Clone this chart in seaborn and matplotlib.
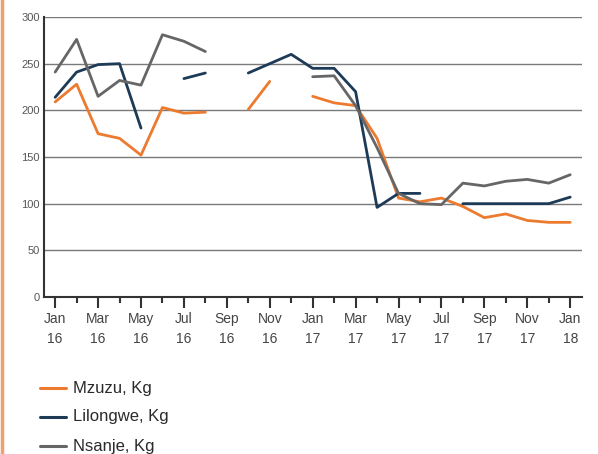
import numpy as np
import pandas as pd
import matplotlib
matplotlib.use("Agg")
import matplotlib.pyplot as plt
from matplotlib.lines import Line2D
import seaborn as sns

nan = np.nan
months = ["Jan 16", "Feb 16", "Mar 16", "Apr 16", "May 16", "Jun 16", "Jul 16", "Aug 16",
          "Sep 16", "Oct 16", "Nov 16", "Dec 16", "Jan 17", "Feb 17", "Mar 17", "Apr 17",
          "May 17", "Jun 17", "Jul 17", "Aug 17", "Sep 17", "Oct 17", "Nov 17", "Dec 17", "Jan 18"]
mzuzu = [209, 228, 175, 170, 152, 203, 197, 198, nan, 201, 231, nan,
         215, 208, 205, 170, 106, 102, 106, 97, 85, 89, 82, 80, 80]
lilongwe = [214, 241, 249, 250, 181, nan, 234, 240, nan, 240, 250, 260,
            245, 245, 220, 96, 111, 111, nan, 100, 100, 100, 100, 100, 107]
nsanje = [241, 276, 215, 232, 227, 281, 274, 263, nan, nan, nan, nan,
          236, 237, 205, 160, 111, 100, 99, 122, 119, 124, 126, 122, 131]
series_names = ["Mzuzu, Kg", "Lilongwe, Kg", "Nsanje, Kg"]
colors = ["#ec7a2f", "#1d3a57", "#666666"]
tick_labels = ["Jan\n16", "Mar\n16", "May\n16", "Jul\n16", "Sep\n16", "Nov\n16", "Jan\n17",
               "Mar\n17", "May\n17", "Jul\n17", "Sep\n17", "Nov\n17", "Jan\n18"]

rows = []
for name, vals in zip(series_names, [mzuzu, lilongwe, nsanje]):
    seg = 0
    prev_nan = True
    for i, v in enumerate(vals):
        if np.isnan(v):
            prev_nan = True
            continue
        if prev_nan:
            seg += 1
        prev_nan = False
        rows.append({"series": name, "x": i, "value": v, "seg": f"{name}-{seg}"})
df = pd.DataFrame(rows)

sns.set_style("white")
plt.rcParams["font.family"] = ["Liberation Sans", "DejaVu Sans"]

fig = plt.figure(figsize=(5.98, 4.54), dpi=100)
ax = fig.add_axes([44/598, 1-297/454, (582-44)/598, (297-17)/454])

ax.set_ylim(0, 300)
ax.set_xlim(-0.52, 24.55)
ax.set_yticks([0, 50, 100, 150, 200, 250, 300])
ax.grid(axis="y", color="#7a7a7a", linewidth=1.0)
ax.grid(axis="x", visible=False)
ax.set_axisbelow(True)

sns.lineplot(data=df, x="x", y="value", hue="series", units="seg", estimator=None,
             palette=dict(zip(series_names, colors)), hue_order=series_names,
             linewidth=2.0, ax=ax, legend=False, sort=True)

for s in ["top", "right"]:
    ax.spines[s].set_visible(False)
for s in ["left", "bottom"]:
    ax.spines[s].set_color("#333333")
    ax.spines[s].set_linewidth(1.5)

ax.set_xticks(range(0, 25, 2))
ax.set_xticklabels(tick_labels, fontsize=10, color="#444444", linespacing=1.55)
ax.set_xticks(range(1, 25, 2), minor=True)
ax.tick_params(axis="x", which="major", bottom=True, direction="out", length=8, width=1.5,
               color="#333333", pad=3)
ax.tick_params(axis="x", which="minor", bottom=True, direction="out", length=4, width=1.5,
               color="#333333")
ax.tick_params(axis="y", which="major", left=False, length=0, pad=3, labelsize=8,
               labelcolor="#555555")
ax.set_xlabel("")
ax.set_ylabel("")

# legend
ys = [388, 417, 446]
for name, col, yy in zip(series_names, colors, ys):
    fy = 1 - yy/454
    fig.add_artist(Line2D([40/598, 66/598], [fy, fy], color=col, linewidth=2.2,
                          transform=fig.transFigure))
    fig.text(73/598, fy, name, fontsize=12, color="#2a2a2a", va="center", ha="left")

# left page border
fig.add_artist(Line2D([1.5/598, 1.5/598], [0, 1], color="#f0a070", linewidth=2.5,
                      transform=fig.transFigure))

fig.savefig("out.png", dpi=100)
